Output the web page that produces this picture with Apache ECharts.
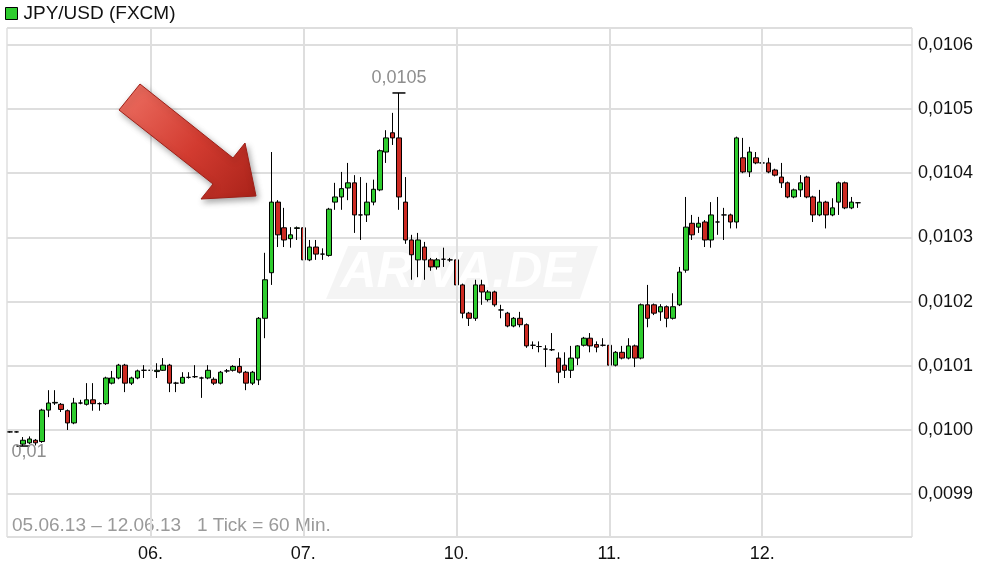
<!DOCTYPE html>
<html><head><meta charset="utf-8">
<script src="https://cdn.jsdelivr.net/npm/echarts@6/dist/echarts.min.js"></script>
<style>html,body{margin:0;padding:0;background:#fff}#c{width:989px;height:567px}</style>
</head><body><div id="c"></div>
<script>
const seriesName = 'JPY/USD (FXCM)';
const dayLabels = ['05.', '06.', '07.', '10.', '11.', '12.'];
const dayFirstHour = [2, 0, 0, 0, 0, 0];
const slotCount = 142;
const rangeText = '05.06.13 \u2013 12.06.13   1 Tick = 60 Min.';

// hourly candles: [open, close, low, high]
const day05 = [
[0.009997,0.009997,0.009996,0.009998],
[0.009997,0.009997,0.009996,0.009998],
[0.009978,0.009984,0.009975,0.009989],
[0.009980,0.009986,0.009978,0.009990],
[0.009984,0.009980,0.009976,0.009986],
[0.009982,0.010031,0.009980,0.010033],
[0.010031,0.010042,0.010020,0.010062],
[0.010042,0.010043,0.010039,0.010062],
[0.010040,0.010032,0.010028,0.010042],
[0.010030,0.010011,0.010000,0.010032],
[0.010011,0.010042,0.010009,0.010050],
[0.010042,0.010042,0.010040,0.010047],
[0.010040,0.010047,0.010038,0.010073],
[0.010047,0.010041,0.010030,0.010073],
[0.010041,0.010041,0.010030,0.010043],
[0.010041,0.010081,0.010039,0.010083],
[0.010073,0.010081,0.010071,0.010092],
[0.010081,0.010101,0.010079,0.010103],
[0.010101,0.010073,0.010059,0.010103],
[0.010073,0.010081,0.010070,0.010083],
[0.010081,0.010092,0.010079,0.010094],
[0.010093,0.010093,0.010081,0.010101]
];
const day06 = [
[0.010093,0.010093,0.010081,0.010101],
[0.010091,0.010093,0.010081,0.010104],
[0.010093,0.010101,0.010092,0.010112],
[0.010101,0.010073,0.010059,0.010103],
[0.010073,0.010073,0.010059,0.010075],
[0.010073,0.010082,0.010072,0.010090],
[0.010082,0.010082,0.010080,0.010090],
[0.010083,0.010083,0.010081,0.010101],
[0.010081,0.010081,0.010050,0.010083],
[0.010081,0.010093,0.010079,0.010101],
[0.010079,0.010073,0.010070,0.010082],
[0.010073,0.010090,0.010071,0.010092],
[0.010092,0.010092,0.010089,0.010095],
[0.010093,0.010099,0.010091,0.010101],
[0.010099,0.010090,0.010088,0.010112],
[0.010090,0.010073,0.010062,0.010092],
[0.010073,0.010090,0.010070,0.010092],
[0.010078,0.010174,0.010070,0.010176],
[0.010174,0.010234,0.010143,0.010276],
[0.010245,0.010355,0.010226,0.010433],
[0.010355,0.010304,0.010285,0.010358],
[0.010315,0.010296,0.010285,0.010346],
[0.010298,0.010304,0.010284,0.010316],
[0.010314,0.010315,0.010296,0.010317]
];
const day07 = [
[0.010315,0.010265,0.010260,0.010317],
[0.010265,0.010285,0.010263,0.010296],
[0.010285,0.010274,0.010265,0.010296],
[0.010274,0.010274,0.010265,0.010283],
[0.010272,0.010344,0.010270,0.010346],
[0.010355,0.010363,0.010343,0.010385],
[0.010363,0.010376,0.010343,0.010402],
[0.010377,0.010385,0.010358,0.010416],
[0.010385,0.010335,0.010307,0.010397],
[0.010335,0.010335,0.010296,0.010394],
[0.010335,0.010355,0.010324,0.010385],
[0.010355,0.010375,0.010350,0.010390],
[0.010374,0.010435,0.010372,0.010437],
[0.010433,0.010455,0.010416,0.010467],
[0.010463,0.010455,0.010444,0.010494],
[0.010455,0.010363,0.010343,0.010525],
[0.010355,0.010296,0.010290,0.010394],
[0.010296,0.010273,0.010234,0.010304],
[0.010265,0.010296,0.010238,0.010307],
[0.010285,0.010265,0.010234,0.010293],
[0.010265,0.010254,0.010248,0.010268],
[0.010254,0.010265,0.010250,0.010268],
[0.010266,0.010266,0.010254,0.010284],
[0.010265,0.010265,0.010262,0.010268]
];
const day10 = [
[0.010265,0.010226,0.010222,0.010268],
[0.010226,0.010182,0.010174,0.010228],
[0.010182,0.010174,0.010162,0.010184],
[0.010174,0.010226,0.010170,0.010234],
[0.010226,0.010215,0.010195,0.010234],
[0.010203,0.010215,0.010200,0.010218],
[0.010215,0.010195,0.010192,0.010217],
[0.010187,0.010187,0.010174,0.010195],
[0.010182,0.010162,0.010160,0.010184],
[0.010162,0.010174,0.010160,0.010176],
[0.010174,0.010164,0.010160,0.010184],
[0.010164,0.010131,0.010128,0.010166],
[0.010132,0.010132,0.010126,0.010138],
[0.010130,0.010130,0.010121,0.010138],
[0.010126,0.010126,0.010098,0.010132],
[0.010125,0.010125,0.010123,0.010151],
[0.010112,0.010090,0.010073,0.010121],
[0.010101,0.010093,0.010081,0.010121],
[0.010093,0.010112,0.010081,0.010131],
[0.010112,0.010131,0.010101,0.010132],
[0.010132,0.010143,0.010130,0.010145],
[0.010143,0.010131,0.010121,0.010151],
[0.010133,0.010129,0.010121,0.010138],
[0.010132,0.010132,0.010130,0.010143]
];
const day11 = [
[0.010132,0.010101,0.010099,0.010134],
[0.010101,0.010121,0.010099,0.010123],
[0.010121,0.010112,0.010110,0.010131],
[0.010112,0.010131,0.010110,0.010143],
[0.010131,0.010112,0.010098,0.010133],
[0.010112,0.010195,0.010110,0.010197],
[0.010195,0.010174,0.010160,0.010226],
[0.010195,0.010182,0.010179,0.010197],
[0.010184,0.010192,0.010170,0.010196],
[0.010192,0.010174,0.010160,0.010194],
[0.010174,0.010192,0.010172,0.010213],
[0.010195,0.010246,0.010193,0.010254],
[0.010249,0.010316,0.010245,0.010363],
[0.010322,0.010304,0.010296,0.010335],
[0.010316,0.010322,0.010307,0.010332],
[0.010324,0.010296,0.010285,0.010327],
[0.010296,0.010335,0.010284,0.010355],
[0.010324,0.010324,0.010304,0.010363],
[0.010335,0.010335,0.010296,0.010346],
[0.010335,0.010324,0.010314,0.010337],
[0.010324,0.010455,0.010314,0.010457],
[0.010424,0.010402,0.010400,0.010455],
[0.010402,0.010433,0.010394,0.010441],
[0.010424,0.010416,0.010414,0.010433]
];
const day12 = [
[0.010416,0.010416,0.010405,0.010424],
[0.010416,0.010402,0.010400,0.010424],
[0.010405,0.010397,0.010395,0.010407],
[0.010394,0.010385,0.010377,0.010416],
[0.010385,0.010363,0.010361,0.010387],
[0.010363,0.010374,0.010361,0.010376],
[0.010374,0.010385,0.010363,0.010397],
[0.010394,0.010363,0.010361,0.010396],
[0.010363,0.010335,0.010324,0.010365],
[0.010335,0.010355,0.010333,0.010374],
[0.010355,0.010335,0.010314,0.010357],
[0.010335,0.010346,0.010333,0.010361],
[0.010355,0.010385,0.010335,0.010387],
[0.010385,0.010346,0.010344,0.010387],
[0.010346,0.010355,0.010344,0.010363],
[0.010354,0.010354,0.010346,0.010354]
];

// ---- build categories (hourly slots) ----
const categories = [];
for (let d = 0; d < dayLabels.length && categories.length < slotCount; d++) {
  for (let h = dayFirstHour[d]; h < 24 && categories.length < slotCount; h++) {
    categories.push(dayLabels[d] + ' ' + String(h).padStart(2, '0') + ':00');
  }
}
const candles = [].concat(day05, day06, day07, day10, day11, day12);
const dayStarts = categories.filter(c => c.endsWith(' 00:00'));

const FONT = "'Liberation Sans', Arial, sans-serif";
const fmt4 = v => (+(+v).toFixed(4)).toString().replace('.', ',');

const chart = echarts.init(document.getElementById('c'), null, {renderer: 'canvas'});
chart.setOption({
  animation: false,
  backgroundColor: '#fff',
  legend: {
    left: 5, top: 4, padding: 0, itemWidth: 12, itemHeight: 12, selectedMode: false,
    textStyle: {fontSize: 19, color: '#111', fontFamily: FONT, padding: [0, 0, 0, 1]},
    data: [{name: seriesName, icon: 'rect',
      itemStyle: {color: '#2ecc2e', borderColor: '#000', borderWidth: 1}}]
  },
  grid: {left: 7, right: 77, top: 28, bottom: 30, show: true, borderColor: '#cfcfcf', borderWidth: 1, containLabel: false},
  xAxis: {
    type: 'category', data: categories, boundaryGap: true,
    axisLine: {show: false}, axisTick: {show: false},
    axisLabel: {
      interval: (i, v) => v.endsWith(' 00:00'),
      formatter: v => v.split(' ')[0],
      fontSize: 18, color: '#111', fontFamily: FONT, margin: 8
    },
    splitLine: {show: false}
  },
  yAxis: {
    type: 'value', position: 'right', scale: true,
    min: 0.0098333, max: 0.0106262, splitNumber: 8,
    axisLine: {show: false}, axisTick: {show: false},
    axisLabel: {
      formatter: v => (+v).toFixed(4).replace('.', ','),
      showMinLabel: false, showMaxLabel: false,
      fontSize: 18, color: '#111', fontFamily: FONT, margin: 6
    },
    splitLine: {show: true, lineStyle: {color: '#dedede', width: 2}}
  },
  graphic: [
    {type: 'group', z: 0, zlevel: 0, silent: true, children: [
      {type: 'polygon', shape: {points: [[348,246],[598,246],[580,299],[326,299]]},
        style: {fill: 'rgba(0,0,0,0.045)'}},
      {type: 'text', x: 458, y: 273, style: {text: 'ARIVA.DE', fill: '#ffffff',
        font: "italic bold 50px 'Liberation Sans', Arial, sans-serif",
        textAlign: 'center', textVerticalAlign: 'middle', opacity: 0.95}}
    ]},
    {type: 'text', left: 12, top: 516, z: 1, silent: true,
      style: {text: rangeText, fill: '#9a9a9a', font: "19px 'Liberation Sans', Arial, sans-serif"}},
    {type: 'polygon', z: 100, silent: true,
      shape: {points: [[140,84],[233,158],[245,143],[256,196],[201,199],[213,184],[119,110]]},
      style: {
        fill: {type: 'linear', x: 0, y: 0, x2: 1, y2: 1, colorStops: [
          {offset: 0, color: '#ee7265'}, {offset: 0.55, color: '#d23b30'}, {offset: 1, color: '#a92219'}]},
        stroke: '#9e2018', lineWidth: 1,
        shadowBlur: 6, shadowColor: 'rgba(0,0,0,0.35)', shadowOffsetX: 2, shadowOffsetY: 3
      }}
  ],
  series: [
    {
      type: 'line', data: [], z: 1, silent: true,
      markLine: {
        silent: true, symbol: 'none', label: {show: false},
        lineStyle: {color: '#dedede', width: 2, type: 'solid'},
        data: dayStarts.map(c => ({xAxis: c}))
      }
    },
    {
      name: seriesName, type: 'candlestick', data: candles, barWidth: 5, z: 3,
      itemStyle: {
        color: '#2ecc2e', color0: '#cc2a22',
        borderColor: '#000', borderColor0: '#000', borderColorDoji: '#000', borderWidth: 1
      },
      markPoint: {
        symbol: 'rect', symbolSize: [13, 1.5],
        itemStyle: {color: '#000'},
        label: {show: true, color: '#8e8e8e', fontSize: 18, fontFamily: FONT,
          formatter: p => fmt4(p.value)},
        data: [
          {type: 'max', valueDim: 'highest', label: {position: 'top', distance: 5}},
          {type: 'min', valueDim: 'lowest', label: {position: 'bottom', distance: 0, offset: [6, -4]}}
        ]
      }
    }
  ]
});
</script>
</body></html>
